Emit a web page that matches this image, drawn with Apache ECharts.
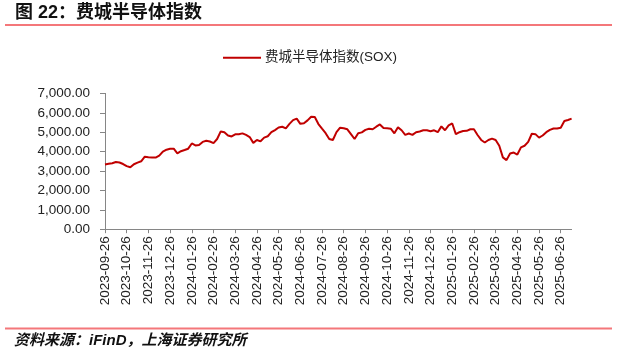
<!DOCTYPE html>
<html>
<head>
<meta charset="utf-8">
<script src="https://cdn.jsdelivr.net/npm/echarts@6/dist/echarts.min.js"></script>
<style>html,body{margin:0;padding:0;background:#fff;}#c{width:617px;height:356px;}</style>
</head>
<body>
<div id="c"></div>
<script>
const titleText = '图 22：费城半导体指数';
const sourceText = '资料来源：iFinD，上海证券研究所';
const seriesName = '费城半导体指数(SOX)';
const tickLabels = ['2023-09-26','2023-10-26','2023-11-26','2023-12-26','2024-01-26','2024-02-26','2024-03-26','2024-04-26','2024-05-26','2024-06-26','2024-07-26','2024-08-26','2024-09-26','2024-10-26','2024-11-26','2024-12-26','2025-01-26','2025-02-26','2025-03-26','2025-04-26','2025-05-26','2025-06-26'];
const yTicks = [0, 1000, 2000, 3000, 4000, 5000, 6000, 7000];
const soxValues = [
  3330,3370,3400,3460,3440,3360,
  3250,3190,3350,3430,3500,3737,
  3710,3700,3690,3789,4000,4100,
  4150,4150,3912,4020,4082,4150,
  4420,4320,4340,4500,4560,4520,
  4440,4650,5040,5000,4830,4780,
  4892,4892,4940,4860,4750,4450,
  4600,4530,4720,4790,5000,5110,
  5240,5280,5200,5430,5620,5700,
  5430,5460,5610,5800,5780,5420,
  5180,4950,4650,4600,5000,5230,
  5205,5150,4900,4650,4950,4990,
  5120,5180,5150,5283,5400,5220,
  5200,5180,4943,5250,5100,4860,
  4930,4860,5000,5040,5100,5100,
  5050,5100,5000,5300,5100,5350,
  5450,4900,5000,5062,5070,5150,
  5150,4856,4600,4470,4600,4670,
  4600,4300,3700,3560,3900,3950,
  3850,4220,4300,4500,4920,4900,
  4720,4830,5000,5120,5190,5190,
  5230,5577,5628,5700
];

// build category dates: each month tick date followed by 5 intermediate dates
const categories = [];
tickLabels.forEach(function (lab) {
  const p = lab.split('-').map(Number);
  for (let j = 0; j < 6; j++) {
    const d = new Date(Date.UTC(p[0], p[1] - 1, p[2] + j * 5));
    categories.push(d.toISOString().slice(0, 10));
  }
});
const cats = categories.slice(0, soxValues.length);

const chart = echarts.init(document.getElementById('c'), null, {renderer: 'canvas'});
const latin = '"Liberation Sans", Arial, "Noto Sans CJK SC", sans-serif';
const cjk = '"Liberation Sans", "Noto Sans CJK SC", sans-serif';

chart.setOption({
  animation: false,
  backgroundColor: '#fff',
  grid: {left: 105, right: 45.4, top: 93.4, bottom: 126.8, containLabel: false},
  legend: {
    data: [seriesName],
    left: 218, top: 46,
    icon: 'rect', itemWidth: 38, itemHeight: 2, itemGap: 4,
    textStyle: {fontFamily: cjk, fontSize: 13.5, color: '#222', padding: [0,0,0,-1]}
  },
  graphic: [
    {type: 'text', left: 15, top: 4, style: {text: titleText, font: 'bold 18px "Liberation Sans","Noto Sans CJK SC",sans-serif', fill: '#111'}},
    {type: 'rect', shape: {x: 5, y: 24, width: 607, height: 2}, style: {fill: '#f4777a'}},
    {type: 'rect', shape: {x: 5, y: 327.5, width: 607, height: 2}, style: {fill: '#f4777a'}},
    {type: 'text', left: 14, top: 333, style: {text: sourceText, font: 'italic bold 15px "Liberation Sans","Noto Sans CJK SC",sans-serif', fill: '#111'}}
  ],
  xAxis: {
    type: 'category',
    data: cats,
    boundaryGap: false,
    axisLine: {lineStyle: {color: '#868686', width: 1}},
    axisTick: {show: true, interval: 5, length: 4, lineStyle: {color: '#868686'}},
    axisLabel: {
      interval: 5, rotate: 90, margin: 7,
      fontFamily: latin, fontSize: 13.5, color: '#222',
      formatter: function (v, i) { return i % 6 === 0 ? tickLabels[i / 6] : ''; }
    },
    splitLine: {show: false}
  },
  yAxis: {
    type: 'value',
    min: yTicks[0], max: yTicks[yTicks.length - 1], interval: 1000,
    axisLine: {show: true, lineStyle: {color: '#868686', width: 1}},
    axisTick: {show: true, length: 5, lineStyle: {color: '#868686'}},
    axisLabel: {
      margin: 15, fontFamily: latin, fontSize: 13.5, color: '#222',
      formatter: function (v) { return v.toLocaleString('en-US', {minimumFractionDigits: 2, maximumFractionDigits: 2}); }
    },
    splitLine: {show: false}
  },
  series: [{
    name: seriesName,
    type: 'line',
    data: soxValues,
    symbol: 'none',
    lineStyle: {color: '#c00000', width: 2},
    itemStyle: {color: '#c00000'}
  }]
});
</script>
</body>
</html>
